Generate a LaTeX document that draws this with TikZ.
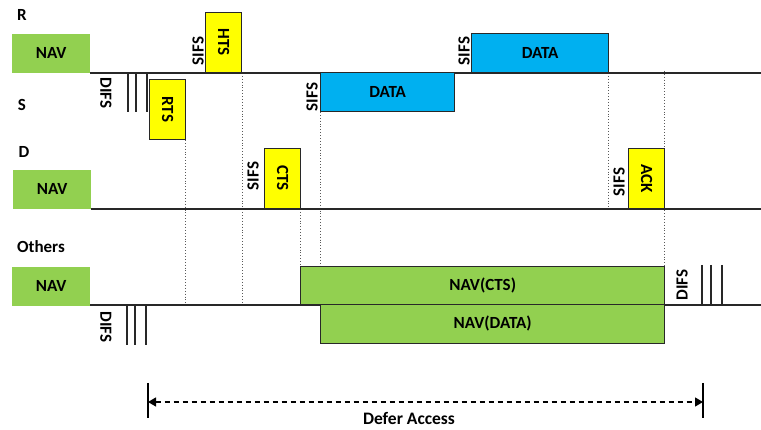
\documentclass[tikz,border=0pt]{standalone}
\usepackage{fontspec}
\setmainfont{Carlito}
\usetikzlibrary{arrows.meta}
\definecolor{navgreen}{RGB}{146,208,80}
\definecolor{pktyellow}{RGB}{255,255,0}
\definecolor{pktblue}{RGB}{0,176,240}
\definecolor{edge}{RGB}{40,40,40}
\tikzset{
  txt/.style={font=\fontsize{17}{19}\selectfont\bfseries, text=black, inner sep=0pt},
  navbox/.style={fill=navgreen, draw=none, minimum width=78pt, minimum height=39pt, inner sep=0pt, anchor=south west},
  pkt/.style={draw=edge, line width=1.4pt, inner sep=0pt, anchor=south west},
  ybox/.style={pkt, fill=pktyellow, minimum width=36pt, minimum height=60pt},
  tline/.style={draw=edge, line width=1.6pt},
  dots/.style={draw=gray!70!black, line width=0.9pt, dotted},
  ifs/.style={draw=edge, line width=1.3pt},
}
\begin{document}
\begin{tikzpicture}[x=1pt,y=-1pt]
\useasboundingbox (0,0) rectangle (761,430);

% row labels
\node[txt] (lr) at (22,15) {R};
\node[txt] (ls) at (22,105) {S};
\node[txt] (ld) at (24,152) {D};
\node[txt] (lo) at (41,247) {Others};

% NAV boxes
\node[navbox, txt] (navr) at (12,73) {NAV};
\node[navbox, txt] (navd) at (13,209) {NAV};
\node[navbox, txt] (navo) at (12,306) {NAV};

% time lines
\coordinate (rs0) at (90,73);   \coordinate (rs1) at (761,73);
\coordinate (d0) at (91,209);   \coordinate (d1) at (761,209);
\coordinate (o0) at (90,305);   \coordinate (o1) at (761,305);

% dotted guide lines (behind boxes)
\coordinate (g1a) at (185,140); \coordinate (g1b) at (185,305);
\coordinate (g2a) at (242,73);  \coordinate (g2b) at (242,307);
\coordinate (g3a) at (320,112); \coordinate (g3b) at (320,305);
\coordinate (g4a) at (300,209); \coordinate (g4b) at (300,267);
\coordinate (g5a) at (608,73);  \coordinate (g5b) at (608,211);
\coordinate (g6a) at (664,71);  \coordinate (g6b) at (664,267);
\draw[dots] (g1a) -- (g1b);
\draw[dots] (g2a) -- (g2b);
\draw[dots] (g3a) -- (g3b);
\draw[dots] (g4a) -- (g4b);
\draw[dots] (g5a) -- (g5b);
\draw[dots] (g6a) -- (g6b);

\draw[tline] (rs0) -- (rs1);
\draw[tline] (d0) -- (d1);
\draw[tline] (o0) -- (o1);

% packets
\node[ybox] (rts) at (149,140) {};
\node[txt, rotate=-90] (trts) at (rts.center) {RTS};
\node[ybox] (hts) at (205,73) {};
\node[txt, rotate=-90] (thts) at (hts.center) {HTS};
\node[ybox] (cts) at (264,209) {};
\node[txt, rotate=-90] (tcts) at (cts.center) {CTS};
\node[ybox] (ack) at (628,209) {};
\node[txt, rotate=-90] (tack) at (ack.center) {ACK};

\node[pkt, fill=pktblue, minimum width=134pt, minimum height=39pt, txt] (sdata) at (320,112) {DATA};
\node[pkt, fill=pktblue, minimum width=137pt, minimum height=39pt, txt] (rdata) at (471,73) {DATA};

\node[pkt, fill=navgreen, minimum width=364pt, minimum height=38pt, txt] (navcts) at (300,305) {NAV(CTS)};
\node[pkt, fill=navgreen, minimum width=344pt, minimum height=39pt, txt] (navdata) at (320,344) {NAV(DATA)};

% SIFS labels
\node[txt, rotate=90] (s1) at (198,51) {SIFS};
\node[txt, rotate=90] (s2) at (312,97) {SIFS};
\node[txt, rotate=90] (s3) at (464,51) {SIFS};
\node[txt, rotate=90] (s4) at (253,176) {SIFS};
\node[txt, rotate=90] (s5) at (619,182) {SIFS};

% DIFS labels and ticks
\node[txt, rotate=-90] (df1) at (106,93) {DIFS};
\node[txt, rotate=-90] (df2) at (106,327) {DIFS};
\node[txt, rotate=90] (df3) at (682,285) {DIFS};

\coordinate (a1t) at (128,73);  \coordinate (a1b) at (128,112);
\coordinate (a2t) at (136,73);  \coordinate (a2b) at (136,112);
\coordinate (a3t) at (147,73);  \coordinate (a3b) at (147,112);
\draw[ifs] (a1t) -- (a1b); \draw[ifs] (a2t) -- (a2b); \draw[ifs] (a3t) -- (a3b);

\coordinate (b1t) at (127,305); \coordinate (b1b) at (127,345);
\coordinate (b2t) at (135,305); \coordinate (b2b) at (135,345);
\coordinate (b3t) at (146,305); \coordinate (b3b) at (146,345);
\draw[ifs] (b1t) -- (b1b); \draw[ifs] (b2t) -- (b2b); \draw[ifs] (b3t) -- (b3b);

\coordinate (c1t) at (702,265); \coordinate (c1b) at (702,305);
\coordinate (c2t) at (711,265); \coordinate (c2b) at (711,305);
\coordinate (c3t) at (722,265); \coordinate (c3b) at (722,305);
\draw[ifs] (c1t) -- (c1b); \draw[ifs] (c2t) -- (c2b); \draw[ifs] (c3t) -- (c3b);

% Defer access
\coordinate (lt) at (148,383); \coordinate (lb) at (148,418);
\coordinate (rt) at (703,383); \coordinate (rb) at (703,418);
\coordinate (la) at (148,402); \coordinate (ra) at (703,402);
\draw[line width=1.6pt, black] (lt) -- (lb);
\draw[line width=1.6pt, black] (rt) -- (rb);
\draw[line width=1.3pt, black, dashed, dash pattern=on 5pt off 4pt, {Triangle[length=8pt,width=9pt]}-{Triangle[length=8pt,width=9pt]}] (la) -- (ra);
\node[txt, font=\fontsize{17.5}{19}\selectfont\bfseries] (defer) at (409,418) {Defer Access};
\end{tikzpicture}
\end{document}
